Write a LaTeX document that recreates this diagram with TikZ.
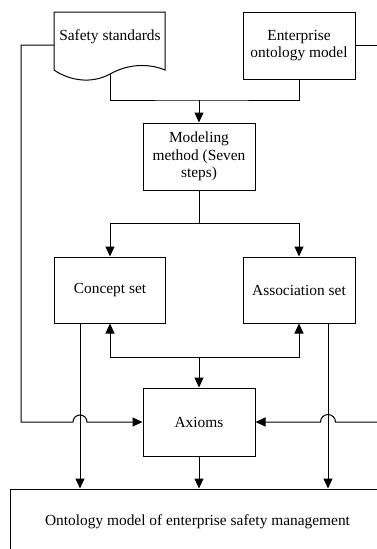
\documentclass[tikz,border=0pt]{standalone}
\usepackage{fontspec}
\setmainfont{Liberation Serif}
\usetikzlibrary{arrows.meta}
\begin{document}
\begin{tikzpicture}[x=1pt,y=-1pt,line width=1pt,
  txt/.style={align=center,font=\fontsize{15.4}{17.5}\selectfont},
  box/.style={txt,draw,rectangle,inner sep=2pt,minimum width=112pt,minimum height=67pt},
  arr/.style={-{Triangle[length=10pt,width=9pt]}}]
\useasboundingbox (0,0) rectangle (377,549);

% document-shaped source: safety standards
\draw (54,70) -- (54,12) -- (165,12) -- (165,70)
  .. controls (148,63) and (128,64) .. (110,74)
  .. controls (92,84) and (70,81) .. (54,70);
\node[txt] (safe) at (110,37) {Safety standards};
\coordinate (sl) at (54,45);
\coordinate (sb) at (110,74);

% boxes
\node[box] (ent) at (299,45.5) {Enterprise\\ontology model};
\node[box] (mod) at (199,156.5) {Modeling\\method (Seven\\steps)};
\node[box,minimum width=111pt,minimum height=66pt] (cs) at (110,290) {Concept set};
\node[box,minimum width=112pt,minimum height=66pt] (as) at (299,290) {Association set};
\node[box,minimum height=68pt] (ax) at (199,422) {Axioms};
\node[box,minimum width=375pt,minimum height=66pt] (onto) at (197.5,522)
  {Ontology model of enterprise safety management};

% junction points
\coordinate (j1) at (199,100);
\coordinate (j2) at (199,223);
\coordinate (j3) at (199,357);
\coordinate (lx) at (80,0);
\coordinate (rx) at (328,0);
\coordinate (re1) at (385,45);
\coordinate (re2) at (385,422);

% sources merge into the modeling method
\draw (sb) |- (j1) -| (ent.south);
\draw[arr] (j1) -- (mod.north);

% modeling method splits into the two sets
\draw (mod.south) -- (j2);
\draw[arr] (j2) -| (cs.north);
\draw[arr] (j2) -| (as.north);

% axioms feed back into both sets
\draw[arr] (j3) -| (cs.south);
\draw[arr] (j3) -| (as.south);
\draw[arr] (j3) -- (ax.north);

% side feeds into the axioms, hopping over the vertical lines
\draw[arr] (sl) -- (21,45) -- (21,422) -- (73,422) arc(180:360:7) -- (ax.west);
\draw (ent.east) -- (ent.east -| re1);
\draw[arr] (re2) -- (335.5,422) arc(0:-180:7.5) -- (ax.east);

% everything flows into the final model
\draw[arr] (cs.south -| lx) -- (onto.north -| lx);
\draw[arr] (ax.south) -- (onto.north -| ax.south);
\draw[arr] (as.south -| rx) -- (onto.north -| rx);
\end{tikzpicture}
\end{document}
